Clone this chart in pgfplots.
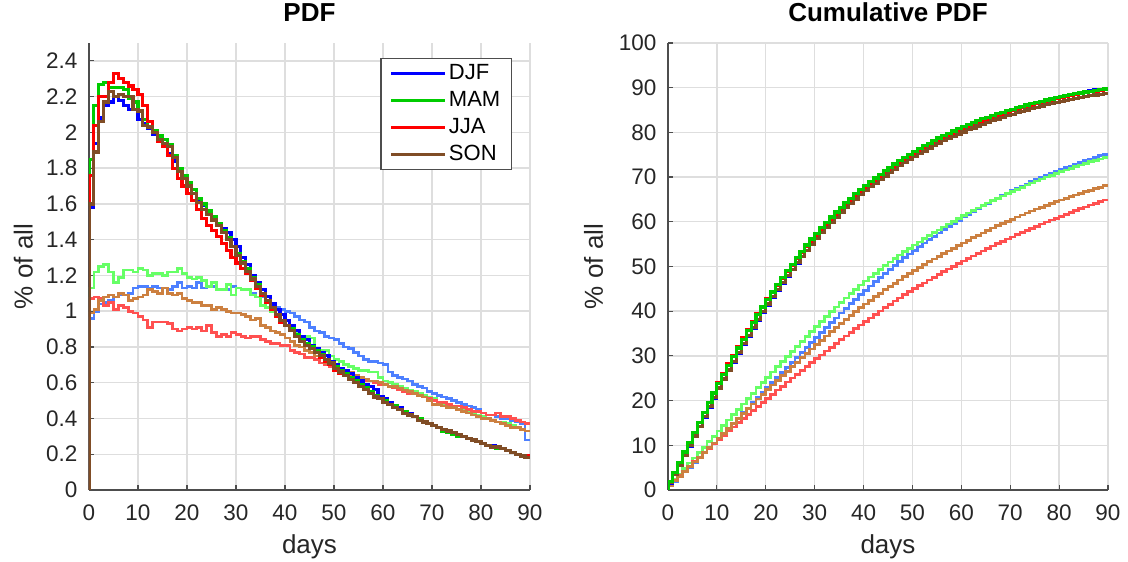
\documentclass[border=0pt]{standalone}
\usepackage{pgfplots}
\usepackage{pgfplotstable}
\usepackage{fontspec}
\setmainfont{Liberation Sans}
\pgfplotsset{compat=1.18}

% season colours: dark set and light set
\definecolor{cB}{RGB}{0,0,255}
\definecolor{cG}{RGB}{0,204,0}
\definecolor{cR}{RGB}{255,0,0}
\definecolor{cN}{RGB}{128,77,38}
\definecolor{lB}{RGB}{77,128,255}
\definecolor{lG}{RGB}{102,255,102}
\definecolor{lR}{RGB}{255,80,80}
\definecolor{lN}{RGB}{204,128,64}
\definecolor{gridc}{RGB}{222,222,222}
\definecolor{axc}{RGB}{77,77,77}
\definecolor{txt}{RGB}{38,38,38}

% daily PDF (% of all per day)
\pgfplotstableread{
d b g r n lb lg lr ln
0 0 0 0 0 0 0 0 0
0 1.58 1.85 1.76 1.60 0.96 1.13 1.07 0.99
1 1.94 2.15 2.04 1.89 1.00 1.22 1.08 1.01
2 2.08 2.27 2.20 2.06 1.04 1.25 1.07 1.06
3 2.15 2.28 2.20 2.17 1.05 1.26 1.03 1.08
4 2.17 2.25 2.28 2.23 1.06 1.22 1.05 1.09
5 2.20 2.25 2.33 2.20 1.08 1.16 1.01 1.08
6 2.18 2.25 2.30 2.21 1.09 1.19 1.03 1.10
7 2.15 2.24 2.28 2.20 1.09 1.23 1.02 1.09
8 2.13 2.19 2.26 2.20 1.10 1.23 1.00 1.06
9 2.13 2.17 2.24 2.13 1.13 1.22 0.99 1.07
10 2.07 2.12 2.21 2.12 1.14 1.24 0.97 1.08
11 2.05 2.07 2.15 2.04 1.14 1.23 0.95 1.09
12 2.02 2.03 2.06 2.03 1.13 1.20 0.91 1.12
13 1.99 2.01 2.00 2.00 1.14 1.21 0.94 1.11
14 1.95 1.98 1.95 1.96 1.13 1.21 0.94 1.10
15 1.93 1.96 1.92 1.94 1.13 1.20 0.94 1.13
16 1.88 1.93 1.87 1.92 1.12 1.22 0.93 1.10
17 1.84 1.87 1.80 1.86 1.14 1.22 0.90 1.09
18 1.78 1.80 1.74 1.78 1.16 1.24 0.89 1.10
19 1.74 1.76 1.70 1.74 1.13 1.21 0.90 1.07
20 1.70 1.72 1.66 1.70 1.14 1.19 0.91 1.06
21 1.66 1.68 1.62 1.66 1.13 1.18 0.90 1.05
22 1.62 1.63 1.57 1.61 1.16 1.19 0.91 1.05
23 1.59 1.60 1.52 1.57 1.13 1.17 0.89 1.03
24 1.56 1.56 1.48 1.54 1.14 1.14 0.92 1.03
25 1.52 1.53 1.45 1.51 1.14 1.16 0.88 1.01
26 1.49 1.49 1.42 1.48 1.12 1.12 0.86 1.02
27 1.46 1.45 1.38 1.44 1.12 1.12 0.87 1.01
28 1.44 1.41 1.34 1.40 1.12 1.15 0.86 1.00
29 1.40 1.36 1.30 1.36 1.14 1.09 0.88 0.99
30 1.36 1.32 1.27 1.31 1.13 1.13 0.87 0.99
31 1.30 1.28 1.24 1.27 1.12 1.12 0.86 0.98
32 1.26 1.24 1.21 1.22 1.12 1.12 0.85 0.97
33 1.20 1.19 1.17 1.18 1.10 1.09 0.86 0.95
34 1.16 1.15 1.13 1.14 1.08 1.08 0.86 0.96
35 1.12 1.10 1.09 1.10 1.08 1.03 0.84 0.92
36 1.08 1.06 1.05 1.06 1.06 1.02 0.83 0.91
37 1.04 1.02 1.01 1.02 1.04 1.00 0.82 0.89
38 1.01 0.98 0.97 0.98 1.02 0.97 0.82 0.88
39 0.98 0.95 0.94 0.95 1.01 0.94 0.81 0.87
40 0.95 0.92 0.92 0.92 1.00 0.92 0.81 0.85
41 0.92 0.90 0.89 0.89 0.99 0.89 0.78 0.83
42 0.89 0.87 0.86 0.86 0.97 0.88 0.77 0.81
43 0.86 0.84 0.83 0.83 0.95 0.86 0.76 0.80
44 0.84 0.82 0.81 0.81 0.94 0.86 0.74 0.78
45 0.81 0.80 0.79 0.79 0.91 0.85 0.74 0.77
46 0.79 0.78 0.77 0.77 0.89 0.79 0.73 0.75
47 0.77 0.76 0.74 0.75 0.88 0.78 0.71 0.74
48 0.75 0.73 0.72 0.73 0.86 0.78 0.70 0.71
49 0.72 0.71 0.70 0.71 0.85 0.75 0.69 0.70
50 0.70 0.69 0.67 0.68 0.84 0.73 0.67 0.69
51 0.68 0.67 0.65 0.66 0.82 0.72 0.66 0.68
52 0.67 0.65 0.64 0.64 0.80 0.70 0.65 0.67
53 0.65 0.63 0.62 0.62 0.79 0.69 0.64 0.66
54 0.63 0.61 0.60 0.60 0.77 0.68 0.63 0.64
55 0.61 0.59 0.58 0.58 0.75 0.67 0.62 0.63
56 0.59 0.57 0.56 0.56 0.73 0.67 0.61 0.62
57 0.58 0.55 0.54 0.54 0.72 0.66 0.61 0.61
58 0.56 0.53 0.52 0.52 0.72 0.66 0.60 0.61
59 0.52 0.51 0.51 0.51 0.71 0.63 0.59 0.60
60 0.51 0.50 0.49 0.49 0.70 0.61 0.59 0.59
61 0.49 0.48 0.48 0.48 0.66 0.60 0.58 0.58
62 0.47 0.47 0.46 0.46 0.64 0.59 0.57 0.58
63 0.46 0.45 0.45 0.45 0.63 0.58 0.56 0.57
64 0.44 0.44 0.43 0.43 0.62 0.57 0.55 0.56
65 0.43 0.42 0.42 0.42 0.61 0.56 0.54 0.55
66 0.41 0.41 0.41 0.41 0.59 0.55 0.54 0.54
67 0.40 0.40 0.39 0.39 0.58 0.54 0.53 0.53
68 0.38 0.38 0.38 0.38 0.57 0.53 0.52 0.52
69 0.37 0.37 0.37 0.37 0.55 0.52 0.51 0.50
70 0.36 0.36 0.36 0.36 0.54 0.51 0.50 0.48
71 0.35 0.35 0.35 0.35 0.53 0.49 0.49 0.48
72 0.34 0.33 0.34 0.34 0.52 0.48 0.49 0.47
73 0.33 0.32 0.33 0.33 0.51 0.48 0.48 0.46
74 0.32 0.31 0.32 0.32 0.50 0.47 0.47 0.46
75 0.31 0.30 0.31 0.31 0.49 0.47 0.47 0.45
76 0.30 0.30 0.30 0.30 0.48 0.45 0.46 0.44
77 0.29 0.29 0.29 0.29 0.47 0.44 0.45 0.43
78 0.28 0.28 0.28 0.28 0.46 0.43 0.44 0.42
79 0.27 0.27 0.27 0.27 0.45 0.42 0.44 0.41
80 0.26 0.26 0.26 0.26 0.43 0.41 0.43 0.40
81 0.25 0.25 0.25 0.25 0.42 0.40 0.42 0.40
82 0.25 0.24 0.24 0.24 0.42 0.39 0.42 0.39
83 0.24 0.23 0.24 0.24 0.41 0.38 0.43 0.38
84 0.23 0.23 0.23 0.23 0.40 0.38 0.41 0.37
85 0.22 0.22 0.22 0.22 0.40 0.37 0.41 0.36
86 0.21 0.21 0.21 0.21 0.39 0.36 0.40 0.35
87 0.20 0.20 0.20 0.20 0.38 0.35 0.39 0.35
88 0.19 0.19 0.19 0.19 0.37 0.34 0.38 0.34
89 0.18 0.18 0.19 0.18 0.28 0.33 0.37 0.33
90 0.18 0.18 0.19 0.18 0.28 0.33 0.37 0.33
}\pdftab

% cumulative PDF (%)
\pgfplotstableread{
d b g r n lb lg lr ln
0 0 0 0 0 0 0 0 0
0 1.58 1.85 1.76 1.60 0.96 1.13 1.07 0.99
1 3.50 3.98 3.79 3.47 1.95 2.34 2.15 1.99
2 5.57 6.22 5.98 5.51 2.98 3.58 3.22 3.04
3 7.71 8.48 8.16 7.66 4.02 4.82 4.25 4.11
4 9.86 10.70 10.43 9.87 5.07 6.03 5.30 5.19
5 12.05 12.93 12.75 12.06 6.14 7.18 6.31 6.26
6 14.21 15.15 15.04 14.25 7.22 8.36 7.34 7.34
7 16.35 17.37 17.31 16.43 8.30 9.58 8.36 8.42
8 18.46 19.53 19.55 18.61 9.39 10.79 9.36 9.47
9 20.58 21.68 21.78 20.72 10.51 12.00 10.35 10.53
10 22.63 23.77 23.98 22.82 11.64 13.23 11.32 11.60
11 24.67 25.82 26.12 24.84 12.77 14.45 12.27 12.68
12 26.67 27.82 28.17 26.85 13.89 15.64 13.18 13.79
13 28.65 29.81 30.15 28.83 15.02 16.83 14.12 14.89
14 30.58 31.76 32.09 30.77 16.14 18.03 15.06 15.98
15 32.50 33.70 34.00 32.70 17.26 19.22 16.00 17.10
16 34.36 35.60 35.86 34.60 18.37 20.43 16.93 18.18
17 36.19 37.45 37.65 36.44 19.50 21.64 17.83 19.26
18 37.95 39.22 39.37 38.20 20.65 22.86 18.72 20.35
19 39.68 40.96 41.06 39.92 21.77 24.06 19.62 21.41
20 41.36 42.65 42.71 41.60 22.90 25.24 20.53 22.46
21 43.01 44.31 44.32 43.24 24.02 26.41 21.43 23.50
22 44.61 45.91 45.88 44.83 25.17 27.59 22.34 24.54
23 46.19 47.49 47.38 46.38 26.29 28.74 23.23 25.56
24 47.73 49.02 48.85 47.90 27.42 29.87 24.15 26.58
25 49.24 50.53 50.29 49.40 28.55 31.02 25.03 27.58
26 50.71 51.99 51.70 50.86 29.66 32.13 25.89 28.58
27 52.16 53.42 53.07 52.28 30.77 33.24 26.76 29.58
28 53.58 54.80 54.39 53.66 31.88 34.37 27.62 30.57
29 54.97 56.14 55.68 55.00 33.01 35.45 28.50 31.55
30 56.31 57.43 56.94 56.29 34.13 36.57 29.37 32.53
31 57.60 58.69 58.17 57.54 35.24 37.68 30.23 33.50
32 58.84 59.90 59.37 58.74 36.35 38.79 31.08 34.46
33 60.03 61.07 60.52 59.90 37.44 39.86 31.94 35.40
34 61.17 62.19 61.64 61.02 38.51 40.93 32.80 36.35
35 62.28 63.27 62.72 62.10 39.58 41.95 33.64 37.26
36 63.34 64.30 63.76 63.15 40.63 42.96 34.47 38.15
37 64.37 65.30 64.76 64.15 41.66 43.95 35.29 39.03
38 65.36 66.25 65.71 65.11 42.67 44.90 36.11 39.90
39 66.33 67.18 66.64 66.04 43.67 45.83 36.92 40.76
40 67.26 68.07 67.55 66.94 44.66 46.74 37.73 41.60
41 68.17 68.95 68.43 67.81 45.64 47.62 38.51 42.42
42 69.04 69.79 69.28 68.65 46.60 48.49 39.28 43.22
43 69.89 70.61 70.09 69.46 47.54 49.33 40.04 44.01
44 70.71 71.40 70.89 70.25 48.47 50.18 40.78 44.78
45 71.51 72.18 71.67 71.02 49.37 51.02 41.52 45.54
46 72.28 72.93 72.43 71.78 50.25 51.80 42.25 46.27
47 73.04 73.67 73.16 72.51 51.12 52.57 42.96 47.00
48 73.77 74.37 73.86 73.22 51.97 53.33 43.66 47.70
49 74.48 75.06 74.55 73.91 52.81 54.07 44.35 48.39
50 75.16 75.72 75.21 74.57 53.64 54.79 45.02 49.07
51 75.83 76.37 75.85 75.21 54.45 55.50 45.68 49.74
52 76.48 76.99 76.48 75.83 55.24 56.19 46.33 50.40
53 77.11 77.60 77.08 76.43 56.02 56.86 46.97 51.05
54 77.73 78.18 77.67 77.01 56.78 57.53 47.60 51.68
55 78.33 78.75 78.24 77.57 57.52 58.19 48.22 52.30
56 78.90 79.29 78.79 78.12 58.24 58.85 48.83 52.90
57 79.47 79.82 79.32 78.64 58.95 59.50 49.44 53.50
58 80.01 80.32 79.82 79.14 59.66 60.14 50.04 54.10
59 80.52 80.81 80.32 79.63 60.36 60.76 50.63 54.69
60 81.01 81.28 80.80 80.10 61.05 61.36 51.22 55.27
61 81.49 81.74 81.27 80.56 61.70 61.95 51.80 55.84
62 81.94 82.18 81.72 81.00 62.33 62.53 52.37 56.41
63 82.39 82.61 82.15 81.43 62.95 63.09 52.93 56.97
64 82.81 83.02 82.57 81.84 63.56 63.65 53.48 57.52
65 83.23 83.42 82.98 82.25 64.16 64.20 54.02 58.06
66 83.62 83.80 83.38 82.64 64.74 64.74 54.56 58.58
67 84.01 84.18 83.76 83.01 65.31 65.27 55.09 59.10
68 84.37 84.53 84.12 83.37 65.87 65.78 55.61 59.61
69 84.73 84.88 84.48 83.72 66.41 66.29 56.12 60.10
70 85.07 85.21 84.83 84.06 66.94 66.79 56.62 60.57
71 85.41 85.54 85.17 84.39 67.46 67.27 57.11 61.04
72 85.73 85.84 85.50 84.71 67.97 67.74 57.60 61.50
73 86.05 86.14 85.81 85.02 68.47 68.20 58.08 61.95
74 86.35 86.42 86.12 85.32 68.96 68.66 58.55 62.40
75 86.65 86.70 86.42 85.62 69.44 69.12 59.02 62.84
76 86.93 86.97 86.71 85.90 69.91 69.56 59.48 63.26
77 87.21 87.24 86.99 86.17 70.37 69.99 59.93 63.68
78 87.47 87.49 87.25 86.43 70.82 70.40 60.37 64.09
79 87.73 87.74 87.51 86.68 71.26 70.81 60.81 64.49
80 87.97 87.97 87.76 86.92 71.68 71.21 61.24 64.88
81 88.21 88.20 88.00 87.15 72.09 71.60 61.66 65.27
82 88.44 88.41 88.23 87.37 72.50 71.98 62.08 65.65
83 88.66 88.62 88.45 87.59 72.90 72.34 62.51 66.02
84 88.88 88.82 88.67 87.80 73.29 72.71 62.92 66.38
85 89.09 89.02 88.88 88.00 73.68 73.07 63.33 66.73
86 89.28 89.20 89.08 88.20 74.06 73.42 63.73 67.06
87 89.47 89.38 89.27 88.38 74.43 73.76 64.12 67.40
88 89.64 89.54 89.44 88.55 74.79 74.08 64.50 67.73
89 89.81 89.70 89.62 88.71 75.06 74.40 64.87 68.05
90 89.81 89.70 89.62 88.71 75.06 74.40 64.87 68.05
}\cdftab

\pgfplotsset{
  panel/.style={
    scale only axis,
    width=441pt, height=447pt,
    xmin=0, xmax=90, xtick={0,10,...,90},
    axis x line*=bottom, axis y line*=left,
    axis line style={axc, line width=1.2pt},
    tick align=inside, major tick length=5pt,
    tick style={axc, line width=1.2pt},
    grid=major, grid style={gridc, line width=1.4pt},
    /pgf/number format/assume math mode=true,
    tick label style={font=\fontsize{22.5}{22.5}\selectfont, text=txt},
    yticklabel style={xshift=-8pt},
    xticklabel style={yshift=-11pt},
    label style={font=\fontsize{26}{26}\selectfont, text=txt},
    xlabel style={at={(axis description cs:0.5,-0.141)}, anchor=base},
    title style={font=\bfseries\fontsize{26}{26}\selectfont, at={(axis description cs:0.5,1.034)}, anchor=base},
    xlabel={days}, ylabel={\% of all},
  },
  dk/.style={const plot, no marks, line width=3.2pt},
  lt/.style={const plot, no marks, line width=2.7pt, forget plot},
}

\begin{document}
\begin{tikzpicture}
\useasboundingbox (-89pt,-72pt) rectangle (1039pt,490pt);

\begin{axis}[panel, at={(0pt,0pt)}, anchor=south west,
    ymin=0, ymax=2.5,
    ytick={0,0.2,0.4,0.6,0.8,1,1.2,1.4,1.6,1.8,2,2.2,2.4},
    title={PDF},
    ylabel style={at={(axis description cs:-0.128,0.5)}, anchor=base},
    legend style={at={(axis description cs:0.959,0.966)}, anchor=north east,
      draw=axc, line width=1.2pt, fill=white,
      font=\fontsize{22}{22}\selectfont, text=black,
      inner xsep=9pt, inner ysep=3pt, row sep=3pt,
      nodes={inner sep=2pt, text height=16pt, text depth=4pt}},
    legend cell align=left,
    legend image code/.code={\draw[#1, line width=3pt] (0pt,0pt) -- (54pt,0pt);},
  ]
  \addplot[lt, lB] table[x=d, y=lb] {\pdftab};
  \addplot[lt, lG] table[x=d, y=lg] {\pdftab};
  \addplot[lt, lR] table[x=d, y=lr] {\pdftab};
  \addplot[lt, lN] table[x=d, y=ln] {\pdftab};
  \addplot[dk, cB] table[x=d, y=b] {\pdftab};
  \addlegendentry{DJF}
  \addplot[dk, cG] table[x=d, y=g] {\pdftab};
  \addlegendentry{MAM}
  \addplot[dk, cR] table[x=d, y=r] {\pdftab};
  \addlegendentry{JJA}
  \addplot[dk, cN] table[x=d, y=n] {\pdftab};
  \addlegendentry{SON}
\end{axis}

\begin{axis}[panel, at={(579pt,0pt)}, anchor=south west, width=440pt,
    ymin=0, ymax=100, ytick={0,10,...,100},
    title={Cumulative PDF},
    ylabel style={at={(axis description cs:-0.148,0.5)}, anchor=base},
  ]
  \addplot[lt, lB] table[x=d, y=lb] {\cdftab};
  \addplot[lt, lG] table[x=d, y=lg] {\cdftab};
  \addplot[lt, lR] table[x=d, y=lr] {\cdftab};
  \addplot[lt, lN] table[x=d, y=ln] {\cdftab};
  \addplot[dk, cB] table[x=d, y=b] {\cdftab};
  \addplot[dk, cR] table[x=d, y=r] {\cdftab};
  \addplot[dk, cN] table[x=d, y=n] {\cdftab};
  \addplot[dk, cG] table[x=d, y=g] {\cdftab};
\end{axis}
\end{tikzpicture}
\end{document}
